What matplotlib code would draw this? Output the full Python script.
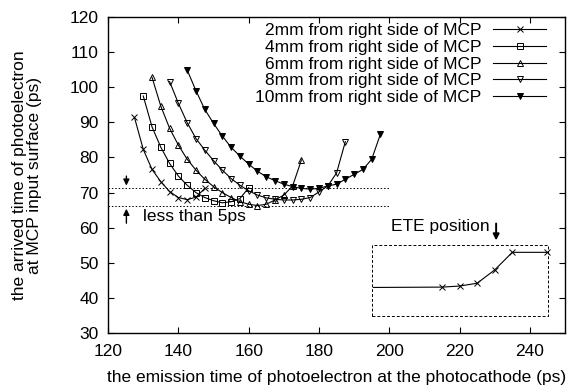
import matplotlib
matplotlib.use("Agg")
import matplotlib.pyplot as plt

plt.rcParams['font.family'] = ['Liberation Sans', 'DejaVu Sans']

# emission time (ps) and arrival time (ps) for each distance
x_2mm = [127.5, 130, 132.5, 135, 137.5, 140, 142.5, 145, 147.5]
y_2mm = [91.4, 82.3, 76.6, 73.1, 70.3, 68.6, 68.0, 68.7, 71.2]

x_4mm = [130, 132.5, 135, 137.5, 140, 142.5, 145, 147.5, 150, 152.5, 155, 157.5, 160]
y_4mm = [97.5, 88.7, 82.9, 78.3, 74.7, 72.1, 70.0, 68.6, 67.7, 67.1, 67.4, 68.3, 71.4]

x_6mm = [132.5, 135, 137.5, 140, 142.5, 145, 147.5, 150, 152.5, 155, 157.5,
         160, 162.5, 165, 167.5, 170, 172.5, 175]
y_6mm = [102.8, 94.6, 88.3, 83.5, 79.5, 76.4, 73.8, 71.7, 70.0, 68.6, 67.4,
         66.7, 66.3, 66.7, 67.9, 69.3, 71.9, 79.3]

x_8mm = [137.5, 140, 142.5, 145, 147.5, 150, 152.5, 155, 157.5, 160, 162.5,
         165, 167.5, 170, 172.5, 175, 177.5, 180, 182.5, 185, 187.5]
y_8mm = [101.6, 95.4, 89.9, 85.4, 82.1, 79.1, 76.4, 74.0, 72.1, 70.5, 69.3,
         68.5, 68.1, 67.9, 67.9, 68.1, 68.6, 70.2, 71.9, 75.6, 84.5]

x_10mm = [142.5, 145, 147.5, 150, 152.5, 155, 157.5, 160, 162.5, 165, 167.5, 170,
          172.5, 175, 177.5, 180, 182.5, 185, 187.5, 190, 192.5, 195, 197.5]
y_10mm = [104.9, 99.0, 93.7, 89.7, 86.1, 82.9, 80.4, 78.1, 76.1, 74.5, 73.4, 72.4,
          71.7, 71.2, 71.0, 71.2, 71.9, 72.4, 73.8, 75.2, 76.6, 79.5, 86.7]

# inset: ETE position curve
x_ete = [195.5, 215, 220, 225, 230, 235, 245]
y_ete = [43.0, 43.1, 43.4, 44.2, 48.0, 53.0, 53.0]

y_upper = 71.2
y_lower = 66.2

fs = 12.5

fig = plt.figure(figsize=(5.69, 3.86), dpi=100)
ax = fig.add_axes([0.190, 0.137, 0.803, 0.819])

lw = 0.8
ax.plot(x_2mm, y_2mm, color="k", lw=lw, marker="x", ms=4.5, mew=0.7,
        label="2mm from right side of MCP")
ax.plot(x_4mm, y_4mm, color="k", lw=lw, marker="s", ms=5, mew=0.7, mfc="none",
        label="4mm from right side of MCP")
ax.plot(x_6mm, y_6mm, color="k", lw=lw, marker="^", ms=4.5, mew=0.7, mfc="none",
        label="6mm from right side of MCP")
ax.plot(x_8mm, y_8mm, color="k", lw=lw, marker="v", ms=4.5, mew=0.7, mfc="none",
        label="8mm from right side of MCP")
ax.plot(x_10mm, y_10mm, color="k", lw=lw, marker="v", ms=4.5, mew=0.7,
        label="10mm from right side of MCP")

# dotted guide lines
ax.plot([120, 200], [y_upper, y_upper], color="k", lw=0.7, ls=(0, (1.5, 2)))
ax.plot([120, 200], [y_lower, y_lower], color="k", lw=0.7, ls=(0, (1.5, 2)))

ax.annotate("", xy=(125.2, y_upper), xytext=(125.2, 75.5),
            arrowprops=dict(arrowstyle="-|>", color="k", lw=1.0, mutation_scale=9))
ax.annotate("", xy=(125.2, y_lower), xytext=(125.2, 60.5),
            arrowprops=dict(arrowstyle="-|>", color="k", lw=1.0, mutation_scale=9))
ax.text(129.8, 63.1, "less than 5ps", fontsize=fs, va="center", ha="left")

# inset box
ax.plot([195.2, 245.1, 245.1, 195.2, 195.2], [35, 35, 55, 55, 35],
        color="k", lw=0.7, ls=(0, (3, 2)))
ax.plot(x_ete, y_ete, color="k", lw=lw, marker="x", ms=4.5, mew=0.7,
        markevery=list(range(1, len(x_ete))))
ax.text(200.4, 60.3, "ETE position", fontsize=fs, va="center", ha="left")
ax.annotate("", xy=(230.4, 55.6), xytext=(230.4, 62.0),
            arrowprops=dict(arrowstyle="-|>", color="k", lw=1.4, mutation_scale=9))

ax.set_xlim(120, 250)
ax.set_ylim(30, 120)
ax.set_xticks(range(120, 250, 20))
ax.set_yticks(range(30, 121, 10))
ax.tick_params(direction="in", top=True, right=True, length=4, labelsize=fs, width=0.8)
ax.tick_params(axis="x", pad=8)
ax.tick_params(axis="y", pad=7)
for s in ax.spines.values():
    s.set_linewidth(1.0)

ax.set_xlabel("the emission time of photoelectron at the photocathode (ps)", fontsize=fs,
              labelpad=8)
ax.set_ylabel("the arrived time of photoelectron\nat MCP input surface (ps)", fontsize=fs,
              labelpad=20, linespacing=0.95)

ax.legend(loc="upper right", frameon=False, markerfirst=False, fontsize=fs,
          handlelength=3.0, labelspacing=0.1, borderaxespad=0.0, borderpad=0.2,
          handletextpad=0.7, bbox_to_anchor=(0.965, 0.993))

fig.savefig("out.png", dpi=100)
